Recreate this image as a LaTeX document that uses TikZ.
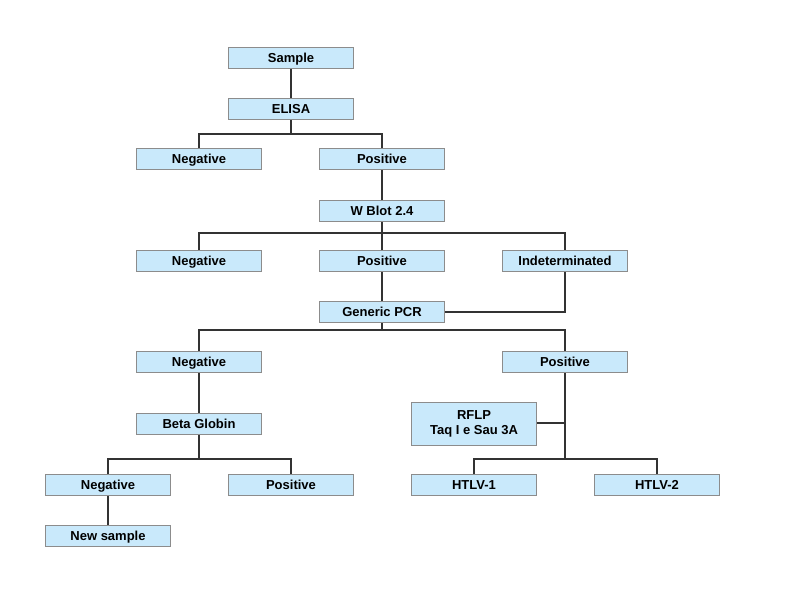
\documentclass[tikz,border=0pt]{standalone}
\usepackage{fontspec}
\setmainfont{Liberation Sans}
\definecolor{boxfill}{HTML}{C9E9FB}
\definecolor{boxline}{HTML}{8C8C8C}
\begin{document}
\begin{tikzpicture}[x=1pt,y=-1pt,
  box/.style={draw=boxline,fill=boxfill,line width=1pt,minimum width=125pt,minimum height=21pt,inner sep=0pt,text height=9.3pt,text depth=0pt,align=center,font=\fontsize{13}{15}\selectfont\bfseries},
  conn/.style={draw=black!80,line width=1.1pt}]
\useasboundingbox (0,0) rectangle (809,589);
\node[box] (sample) at (291,58) {Sample};
\node[box] (elisa) at (291,109) {ELISA};
\node[box] (neg1) at (199,159) {Negative};
\node[box] (pos1) at (382,159) {Positive};
\node[box] (wblot) at (382,211) {W Blot 2.4};
\node[box] (neg2) at (199,261) {Negative};
\node[box] (pos2) at (382,261) {Positive};
\node[box] (ind) at (565,261) {Indeterminated};
\node[box] (pcr) at (382,312) {Generic PCR};
\node[box] (neg3) at (199,362) {Negative};
\node[box] (pos3) at (565,362) {Positive};
\node[box] (beta) at (199,424) {Beta Globin};
\node[box,minimum height=43pt,text height=,text depth=] (rflp) at (474,424) {RFLP\\Taq I e Sau 3A};
\node[box] (neg4) at (108,485) {Negative};
\node[box] (pos4) at (291,485) {Positive};
\node[box] (htlv1) at (474,485) {HTLV-1};
\node[box] (htlv2) at (657,485) {HTLV-2};
\node[box] (new) at (108,536) {New sample};
\coordinate (b1) at (0,134);
\coordinate (b2) at (0,233);
\coordinate (b3) at (0,330);
\coordinate (b4) at (0,459);
\coordinate (r1) at (0,423);
\draw[conn] (sample) -- (elisa);
\draw[conn] (elisa.south) -- (elisa.south |- b1);
\draw[conn] (neg1.north) |- (pos1.north |- b1) -- (pos1.north);
\draw[conn] (pos1) -- (wblot);
\draw[conn] (wblot.south) -- (wblot.south |- b2);
\draw[conn] (neg2.north) |- (ind.north |- b2) -- (ind.north);
\draw[conn] (pos2.north) -- (pos2.north |- b2);
\draw[conn] (pos2) -- (pcr);
\draw[conn] (ind.south) |- (pcr.east);
\draw[conn] (pcr.south) -- (pcr.south |- b3);
\draw[conn] (neg3.north) |- (pos3.north |- b3) -- (pos3.north);
\draw[conn] (neg3) -- (beta);
\draw[conn] (beta.south) -- (beta.south |- b4);
\draw[conn] (neg4.north) |- (pos4.north |- b4) -- (pos4.north);
\draw[conn] (neg4) -- (new);
\draw[conn] (pos3.south) -- (pos3.south |- b4);
\draw[conn] (rflp.east |- r1) -- (pos3.south |- r1);
\draw[conn] (htlv1.north) |- (htlv2.north |- b4) -- (htlv2.north);
\end{tikzpicture}
\end{document}
